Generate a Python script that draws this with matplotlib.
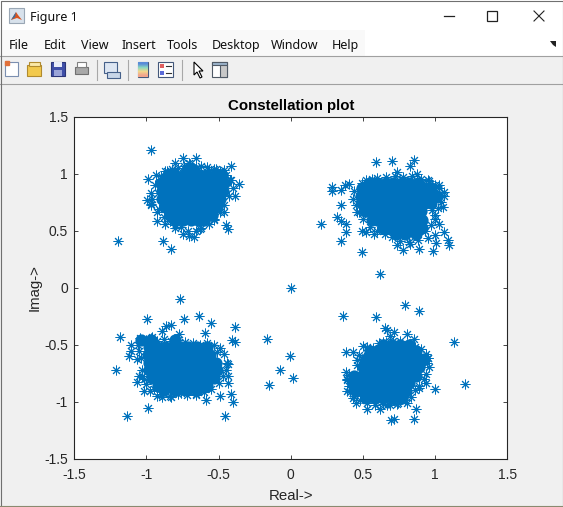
#!/usr/bin/env python3
# Constellation plot (QPSK-like) inside a MATLAB figure window
import matplotlib
matplotlib.use('Agg')
import matplotlib.pyplot as plt
from matplotlib.patches import Rectangle, Polygon

# ── scattered stars, per cluster ──────────────────────────────────────────────
tl_x = [-0.971, -1.194, -0.887, -0.832, -0.748, -0.655, -0.804, -0.581, -0.414, -0.989, -0.934,
        -0.869, -0.358, -0.386, -0.414, -0.999, -0.971, -0.971, -0.925, -0.869, -0.804, -0.748,
        -0.702, -0.674, -0.628, -0.535, -0.461, -0.451, -0.433, -0.461, -0.516, -0.702,
        -0.94, -0.92, -0.96, -0.97, -0.93, -0.90, -0.86, -0.82, -0.78, -0.74, -0.70, -0.66,
        -0.62, -0.57, -0.53, -0.49, -0.45, -0.42, -0.40, -0.43, -0.46, -0.49, -0.53, -0.57,
        -0.62, -0.66, -0.71, -0.76, -0.80, -0.84, -0.88, -0.91]
tl_y = [1.21, 0.41, 0.41, 0.34, 1.14, 1.14, 1.09, 1.06, 1.07, 0.95, 0.99,
        1.02, 0.91, 0.80, 0.94, 0.77, 0.83, 0.73, 0.58, 0.56, 0.52, 0.47,
        0.45, 0.44, 0.51, 0.59, 0.66, 0.55, 0.51, 1.03, 1.04, 1.09,
        0.90, 0.83, 0.78, 0.72, 0.66, 0.98, 1.02, 1.04, 1.05, 1.07, 1.08, 1.05,
        1.07, 1.03, 1.04, 1.02, 0.99, 0.94, 0.87, 0.80, 0.72, 0.66, 0.60, 0.56,
        0.52, 0.50, 0.50, 0.53, 0.55, 0.58, 0.62, 0.69]

tr_x = [0.588, 0.699, 0.857, 0.829, 0.737, 0.876, 0.282, 0.282, 0.347, 0.375, 0.403,
        0.347, 0.319, 0.351, 0.384, 0.379, 0.212, 0.347, 0.495, 0.616, 0.495, 0.523,
        0.579, 0.737, 0.778, 0.829, 0.885, 0.987, 1.099, 1.089, 1.061, 1.006, 1.024,
        0.997, 0.950, 0.978, 1.052, 1.061, 1.024, 0.950, 0.778,
        0.44, 0.43, 0.45, 0.46, 0.49, 0.52, 0.56, 0.60, 0.66, 0.72, 0.78, 0.84,
        0.90, 0.96, 1.00, 1.03, 1.06, 1.04, 1.02, 1.00, 1.00, 0.97, 0.93, 0.88,
        0.82, 0.76, 0.70, 0.65, 0.60, 0.55, 0.50, 0.47]
tr_y = [1.10, 1.11, 1.12, 1.07, 1.01, 1.00, 0.88, 0.85, 0.855, 0.90, 0.91,
        0.72, 0.62, 0.58, 0.56, 0.49, 0.56, 0.41, 0.31, 0.12, 0.50, 0.49,
        0.47, 0.37, 0.33, 0.38, 0.335, 0.32, 0.37, 0.42, 0.49, 0.39, 0.56,
        0.46, 0.43, 0.68, 0.71, 0.84, 0.90, 0.94, 0.94,
        0.85, 0.78, 0.72, 0.66, 0.92, 0.94, 0.95, 0.96, 0.97, 0.98, 0.97, 0.98,
        0.95, 0.93, 0.90, 0.87, 0.80, 0.75, 0.70, 0.64, 0.60, 0.55, 0.50, 0.42,
        0.40, 0.41, 0.44, 0.47, 0.50, 0.53, 0.60, 0.66]

bl_x = [-0.767, 0.002, -0.995, -0.739, -0.635, -0.556, -0.386, -0.593, -0.406, -0.386, -0.168,
        -0.005, -0.074, 0.016, -0.150, -1.182, -1.210, -1.134, -0.988, -0.459, -0.400, -0.413,
        -0.490, -0.587, -0.434, -0.434, -0.434, -1.110, -1.110, -1.122, -1.069, -1.044, -0.891,
        -0.868, -0.829, -0.774, -0.960, -1.050, -1.069, -1.016, -0.974, -0.926, -0.891, -0.829,
        -0.760, -0.658, -0.510,
        -1.06, -1.05, -1.04, -1.03, -1.02, -1.00, -0.97, -0.93, -0.88, -0.83, -0.78, -0.73,
        -0.68, -0.63, -0.58, -0.53, -0.49, -0.46, -0.44, -0.45, -0.47, -0.50, -0.55, -0.60,
        -0.66, -0.72, -0.78, -0.84, -0.90, -0.95, -1.00, -1.03]
bl_y = [-0.10, 0.00, -0.275, -0.275, -0.25, -0.31, -0.35, -0.40, -0.46, -0.476, -0.45,
        -0.60, -0.72, -0.79, -0.855, -0.43, -0.72, -1.13, -1.06, -1.13, -1.00, -0.93,
        -0.95, -0.985, -0.67, -0.775, -0.835, -0.50, -0.56, -0.60, -0.625, -0.44, -0.38,
        -0.335, -0.33, -0.405, -0.43, -0.775, -0.83, -0.905, -0.905, -0.95, -0.96, -0.96,
        -0.925, -0.94, -0.57,
        -0.50, -0.56, -0.62, -0.72, -0.80, -0.46, -0.44, -0.47, -0.45, -0.47, -0.46, -0.48,
        -0.49, -0.50, -0.49, -0.50, -0.53, -0.58, -0.66, -0.72, -0.78, -0.84, -0.89, -0.92,
        -0.93, -0.94, -0.93, -0.95, -0.93, -0.89, -0.85, -0.78]

br_x = [0.362, 0.591, 0.792, 0.889, 0.653, 0.667, 0.715, 0.688, 0.805, 0.854, 1.131,
        1.207, 0.999, 0.937, 0.500, 0.528, 0.383, 0.431, 0.473, 0.459, 0.639, 0.404,
        0.390, 0.390, 0.455, 0.526, 0.618, 0.667, 0.695, 0.715, 0.854, 0.868, 0.805,
        0.736, 0.944, 0.951, 0.889,
        0.38, 0.39, 0.40, 0.41, 0.43, 0.46, 0.49, 0.53, 0.57, 0.61, 0.66, 0.71,
        0.76, 0.81, 0.86, 0.90, 0.94, 0.95, 0.96, 0.94, 0.92, 0.89, 0.86, 0.83,
        0.79, 0.74, 0.69, 0.64, 0.58, 0.53, 0.48, 0.44]
br_y = [-0.25, -0.257, -0.15, -0.205, -0.355, -0.37, -0.39, -0.425, -0.405, -0.45, -0.476,
        -0.845, -0.89, -0.835, -0.51, -0.525, -0.57, -0.565, -0.59, -0.635, -0.48, -0.765,
        -0.81, -0.91, -1.01, -1.065, -1.065, -1.03, -1.16, -1.15, -1.15, -1.065, -1.01,
        -1.02, -0.66, -0.615, -0.88,
        -0.74, -0.80, -0.86, -0.92, -0.97, -0.68, -0.63, -0.60, -0.53, -0.49, -0.48, -0.47,
        -0.47, -0.50, -0.52, -0.54, -0.58, -0.62, -0.70, -0.76, -0.80, -0.86, -0.90, -0.96,
        -0.99, -1.01, -1.03, -1.02, -1.03, -1.01, -0.99, -0.95]

# ── saturated middle of each cluster: one y per row, then that row's x values ──
tl_core_y = [1.03, 0.99, 0.92, 0.85, 0.78, 0.71, 0.64, 0.59]
tl_core_x = [[-0.72, -0.67],
             [-0.85, -0.80, -0.74, -0.69, -0.63, -0.58, -0.52, -0.48],
             [-0.90, -0.85, -0.79, -0.74, -0.68, -0.63, -0.57, -0.52, -0.46],
             [-0.89, -0.83, -0.78, -0.72, -0.67, -0.61, -0.56, -0.50, -0.47],
             [-0.89, -0.85, -0.79, -0.74, -0.68, -0.63, -0.57, -0.52, -0.49],
             [-0.87, -0.82, -0.76, -0.71, -0.65, -0.60, -0.54, -0.51],
             [-0.84, -0.79, -0.73, -0.68, -0.62, -0.57, -0.545],
             [-0.80, -0.75, -0.69, -0.64, -0.60]]

tr_core_y = [0.92, 0.877, 0.807, 0.737, 0.667, 0.596, 0.526, 0.465]
tr_core_x = [[0.55, 0.60, 0.66, 0.71, 0.77, 0.82, 0.88],
             [0.49, 0.54, 0.60, 0.65, 0.71, 0.76, 0.82, 0.87, 0.93, 0.97],
             [0.485, 0.51, 0.57, 0.62, 0.68, 0.73, 0.79, 0.84, 0.90, 0.95, 1.01],
             [0.49, 0.54, 0.60, 0.65, 0.71, 0.76, 0.82, 0.87, 0.93, 0.97],
             [0.515, 0.57, 0.62, 0.68, 0.73, 0.79, 0.84, 0.90],
             [0.56, 0.60, 0.65, 0.71, 0.76, 0.82, 0.87, 0.91],
             [0.64, 0.68, 0.74, 0.79, 0.85, 0.91],
             [0.73, 0.79, 0.87]]

bl_core_y = [-0.46, -0.518, -0.588, -0.658, -0.728, -0.798, -0.868, -0.90]
bl_core_x = [[-1.04, -0.97, -0.80],
             [-0.98, -0.93, -0.87, -0.82, -0.76, -0.71, -0.65, -0.58],
             [-0.99, -0.95, -0.90, -0.84, -0.79, -0.73, -0.68, -0.62, -0.56],
             [-0.98, -0.93, -0.87, -0.82, -0.76, -0.71, -0.65, -0.60, -0.55, -0.515],
             [-0.98, -0.95, -0.90, -0.84, -0.79, -0.73, -0.68, -0.62, -0.57, -0.51],
             [-0.965, -0.91, -0.86, -0.80, -0.75, -0.69, -0.64, -0.58, -0.53],
             [-0.92, -0.88, -0.83, -0.77, -0.72, -0.66, -0.61, -0.58],
             [-0.88, -0.80, -0.72, -0.65]]

br_core_y = [-0.50, -0.561, -0.631, -0.70, -0.772, -0.842, -0.912, -0.965]
br_core_x = [[0.64, 0.70, 0.76, 0.82],
             [0.55, 0.60, 0.66, 0.71, 0.77, 0.82, 0.87],
             [0.52, 0.55, 0.61, 0.66, 0.72, 0.77, 0.83, 0.88, 0.92],
             [0.50, 0.53, 0.58, 0.64, 0.69, 0.75, 0.80, 0.86, 0.89],
             [0.44, 0.49, 0.55, 0.60, 0.66, 0.71, 0.77, 0.82, 0.87],
             [0.43, 0.47, 0.52, 0.58, 0.63, 0.69, 0.74, 0.80, 0.82],
             [0.455, 0.50, 0.55, 0.61, 0.66, 0.72, 0.77, 0.80],
             [0.52, 0.58, 0.64, 0.70, 0.77]]

axis_ticks = [-1.5, -1, -0.5, 0, 0.5, 1, 1.5]
tick_labels = ['-1.5', '-1', '-0.5', '0', '0.5', '1', '1.5']
menu_items = ['File', 'Edit', 'View', 'Insert', 'Tools', 'Desktop', 'Window', 'Help']
menu_pos = [9, 44, 81, 122, 167, 212, 271, 332]

BLUE = '#0072BD'
W, H = 563, 507

plt.rcParams['font.family'] = ['Liberation Sans', 'DejaVu Sans']
fig = plt.figure(figsize=(W / 100, H / 100), dpi=100, facecolor='#F0F0F0')

# ── window chrome, drawn in pixel coordinates ─────────────────────────────────
ui = fig.add_axes([0, 0, 1, 1], zorder=0)
ui.set_xlim(0, W); ui.set_ylim(H, 0); ui.axis('off')


def box(x, y, w, h, fc, ec='none', lw=0.8):
    ui.add_patch(Rectangle((x, y), w, h, facecolor=fc, edgecolor=ec, linewidth=lw))


box(0, 0, W, 30, 'white')
box(0, 30, W, 26, 'white')
box(0, 30, 365, 26, '#F9F9F9')
ui.plot([0, W], [56, 56], color='#A0A0A0', lw=0.8)
ui.plot([0, W], [83.5, 83.5], color='#A0A0A0', lw=0.8)
ui.plot([0.5, 0.5, W - 0.5, W - 0.5], [H, 0.5, 0.5, H], color='#707070', lw=0.8)
ui.plot([0, W], [505.5, 505.5], color='#8A8A70', lw=0.8)

# title bar
box(9, 8, 15, 15, '#D8E2EC', '#9AA7B5')
ui.add_patch(Polygon([[11, 20], [16, 12], [18, 15], [22, 20], [17, 18]], facecolor='#D9531E'))
ui.add_patch(Polygon([[11, 20], [16, 12], [15, 17]], facecolor='#2F6FA7'))
ui.text(30, 21, 'Figure 1', fontsize=9, family='Noto Sans', va='baseline', color='#101010')
ui.plot([444, 454], [16, 16], color='#222222', lw=0.9)
box(487, 10.5, 10, 10, 'none', '#222222', 0.9)
ui.plot([534, 544], [11, 21], color='#222222', lw=0.8)
ui.plot([534, 544], [21, 11], color='#222222', lw=0.8)

# menu bar
for name, mx in zip(menu_items, menu_pos):
    ui.text(mx, 49, name, fontsize=9, family='Noto Sans', va='baseline', color='#101010')
ui.add_patch(Polygon([[550, 41], [556, 41], [556, 47], [553, 45]], facecolor='#222222'))

# toolbar icons
box(5, 62, 13, 14, 'white', '#7B8FB0')
ui.plot([7], [63], 's', ms=2.5, color='#E0703A')
box(27, 65, 14, 11, '#F2C94C', '#B08A2E')
box(29, 62, 11, 4, '#FBE9A8', '#B08A2E')
box(51, 62, 14, 14, '#3F4FA8', '#2B3578')
box(54, 62, 8, 5, '#E8ECF8')
box(54, 70, 8, 6, '#9AA4D8')
box(75, 67, 13, 7, '#A8A8A8', '#707070')
box(77, 62, 9, 5, 'white', '#808080')
ui.plot([96.5, 96.5], [60, 80], color='#A8A8A8', lw=0.8)
box(104, 62, 13, 11, '#DDE6F2', '#45608A')
box(107, 72, 13, 6, '#C8D6E8', '#45608A')
ui.plot([127.5, 127.5], [60, 80], color='#A8A8A8', lw=0.8)
ui.imshow([[[0.35, 0.55, 0.85]], [[0.55, 0.85, 0.75]], [[0.95, 0.85, 0.55]], [[0.95, 0.65, 0.55]]],
          extent=(138, 148, 77, 62), aspect='auto', interpolation='bilinear', zorder=2)
ui.set_xlim(0, W); ui.set_ylim(H, 0)
box(138, 62, 10, 15, 'none', '#44587A')
box(158, 62, 15, 15, 'white', '#44587A')
box(160, 64, 4, 4, '#E06060')
box(160, 71, 4, 4, '#5A6AD8')
ui.plot([166, 171], [66, 66], color='#333333', lw=0.8)
ui.plot([166, 171], [73, 73], color='#333333', lw=0.8)
ui.plot([181.5, 181.5], [60, 80], color='#A8A8A8', lw=0.8)
ui.add_patch(Polygon([[194, 62], [194, 75], [197, 72], [200, 78], [202, 77], [199, 71], [203, 71]],
                     facecolor='white', edgecolor='black', linewidth=0.8))
box(212, 62, 15, 15, 'white', '#505A66')
box(212, 62, 15, 3, '#9DB4CC', '#505A66')
box(220, 65, 7, 12, '#C8C8C8', '#505A66')

# ── the plot itself ───────────────────────────────────────────────────────────
ax = fig.add_axes([74.3 / W, (H - 458.5) / H, 433 / W, 342 / H], zorder=1)
for core_x, core_y in [(tl_core_x, tl_core_y), (tr_core_x, tr_core_y),
                       (bl_core_x, bl_core_y), (br_core_x, br_core_y)]:
    xs = [x for row in core_x for x in row]
    ys = [y for row, y0 in zip(core_x, core_y) for y in [y0] * len(row)]
    ax.plot(xs, ys, 'o', color=BLUE, ms=8.8, mew=0)
for sx, sy in [(tl_x, tl_y), (tr_x, tr_y), (bl_x, bl_y), (br_x, br_y)]:
    ax.plot(sx, sy, linestyle='none', marker=(8, 2, 0), color=BLUE, ms=7.0, mew=0.7)

ax.set_xlim(-1.5, 1.5)
ax.set_ylim(-1.5, 1.5)
ax.set_xticks(axis_ticks)
ax.set_xticklabels(tick_labels, fontsize=10, color='#262626')
ax.set_yticks(axis_ticks)
ax.set_yticklabels(tick_labels, fontsize=10, color='#262626')
ax.tick_params(direction='in', length=3, width=0.6, top=True, right=True, color='#262626')
ax.tick_params(axis='x', pad=7)
ax.tick_params(axis='y', pad=4.5)
for s in ax.spines.values():
    s.set_color('#262626')
    s.set_linewidth(0.8)
ax.set_title('Constellation plot', fontsize=10.8, fontweight='bold', color='black', pad=5)
ax.set_xlabel('Real->', fontsize=10.8, color='#262626', labelpad=5)
ax.set_ylabel('Imag->', fontsize=10.8, color='#262626', labelpad=2)

fig.savefig('out.png', dpi=100, facecolor=fig.get_facecolor())
